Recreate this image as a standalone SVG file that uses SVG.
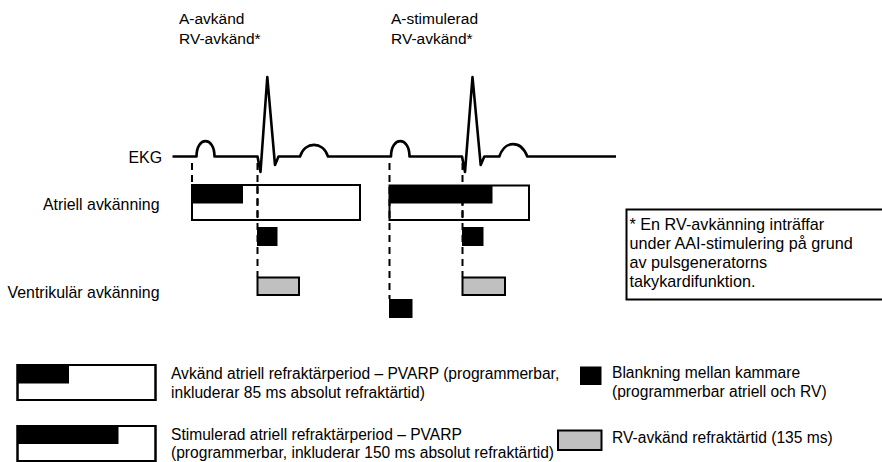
<svg xmlns="http://www.w3.org/2000/svg" width="882" height="462" viewBox="0 0 882 462">
<style>
text{font-family:"Liberation Sans",Arial,sans-serif;font-size:15.5px;fill:#000}
.row{font-size:15.9px}
.fn{font-size:16.2px}
.lg{font-size:15.6px}
.box{fill:#fff;stroke:#000;stroke-width:2}
.blk{fill:#000}
.gry{fill:#c0c0c0;stroke:#000;stroke-width:2}
.dash{stroke:#000;stroke-width:2;stroke-dasharray:7 5;fill:none}
.ecg{fill:none;stroke:#000;stroke-width:2.6;stroke-linejoin:round}
</style>
<rect width="882" height="462" fill="#fff"/>
<g id="top-labels">
<text x="179" y="24">A-avkänd</text>
<text x="179" y="44">RV-avkänd*</text>
<text x="391" y="24">A-stimulerad</text>
<text x="391" y="44">RV-avkänd*</text>
</g>
<g id="row-labels">
<text class="row" x="162" y="163" text-anchor="end">EKG</text>
<text class="row" x="159.5" y="210" text-anchor="end">Atriell avkänning</text>
<text class="row" x="159.5" y="298" text-anchor="end">Ventrikulär avkänning</text>
</g>
<g id="connectors">
<line class="dash" x1="192" y1="163" x2="192" y2="185"/>
<line class="dash" x1="257.5" y1="163" x2="257.5" y2="277"/>
<line class="dash" x1="389.5" y1="163" x2="389.5" y2="299"/>
<line class="dash" x1="462.5" y1="163" x2="462.5" y2="277"/>
</g>
<g id="ecg">
<path class="ecg" d="M172.5,156.5 H196.5 C196.5,136 214.5,136 214.5,156.5 H257.5 L260.5,172 L267.3,77 L275,165 L278.5,156.5 H300 C305,141 323,141 328,156.5 H391 C391,136 409.5,136 409.5,156.5 H462 L465,172 L472.5,77 L480.7,165 L484.3,156.5 H499.3 C505,140 521,140 527.3,156.5 H616"/>
</g>
<g id="atrial-sensed">
<rect class="blk" x="192" y="185" width="51" height="18.5"/>
<rect class="box" x="192" y="185" width="168" height="35" style="fill:none"/>
<line class="dash" x1="257.5" y1="186" x2="257.5" y2="219"/>
</g>
<g id="blanking-1"><rect class="blk" x="257" y="227" width="20.5" height="19"/></g>
<g id="rv-sensed-1"><rect class="gry" x="257.5" y="277.5" width="41.5" height="17.5"/></g>
<g id="atrial-paced">
<rect class="blk" x="389.5" y="185.5" width="103" height="18"/>
<rect class="box" x="389.5" y="185.5" width="139.5" height="34.5" style="fill:none"/>
<line class="dash" x1="462.5" y1="186" x2="462.5" y2="219"/>
</g>
<g id="blanking-2"><rect class="blk" x="462" y="227" width="21.5" height="19"/></g>
<g id="rv-sensed-2"><rect class="gry" x="462.5" y="277.5" width="42.5" height="17.5"/></g>
<g id="ventricular-pace"><rect class="blk" x="389" y="299" width="23.5" height="19"/></g>
<g id="footnote">
<rect class="box" x="626.5" y="209.5" width="262" height="90"/>
<text class="fn" x="629.5" y="230">* En RV-avkänning inträffar</text>
<text class="fn" x="629.5" y="249">under AAI-stimulering på grund</text>
<text class="fn" x="629.5" y="268">av pulsgeneratorns</text>
<text class="fn" x="629.5" y="287">takykardifunktion.</text>
</g>
<g id="legend-sensed">
<rect class="box" x="17.5" y="365" width="138" height="35"/>
<rect class="blk" x="17.5" y="365" width="51.5" height="18.5"/>
<rect class="box" x="17.5" y="365" width="138" height="35" style="fill:none"/>
<text class="lg" x="171" y="379">Avkänd atriell refraktärperiod – PVARP (programmerbar,</text>
<text class="lg" x="171" y="398">inkluderar 85 ms absolut refraktärtid)</text>
</g>
<g id="legend-paced">
<rect class="box" x="17.5" y="426" width="138" height="35"/>
<rect class="blk" x="17.5" y="426" width="101" height="18"/>
<rect class="box" x="17.5" y="426" width="138" height="35" style="fill:none"/>
<text class="lg" x="171" y="440">Stimulerad atriell refraktärperiod – PVARP</text>
<text class="lg" x="171" y="458">(programmerbar, inkluderar 150 ms absolut refraktärtid)</text>
</g>
<g id="legend-blanking">
<rect class="blk" x="580" y="366.5" width="21.5" height="18.5"/>
<text class="lg" x="612" y="378">Blankning mellan kammare</text>
<text class="lg" x="612" y="397">(programmerbar atriell och RV)</text>
</g>
<g id="legend-rv">
<rect class="gry" x="558" y="430.5" width="43.5" height="19.5"/>
<text class="lg" x="612" y="443">RV-avkänd refraktärtid (135 ms)</text>
</g>
</svg>
